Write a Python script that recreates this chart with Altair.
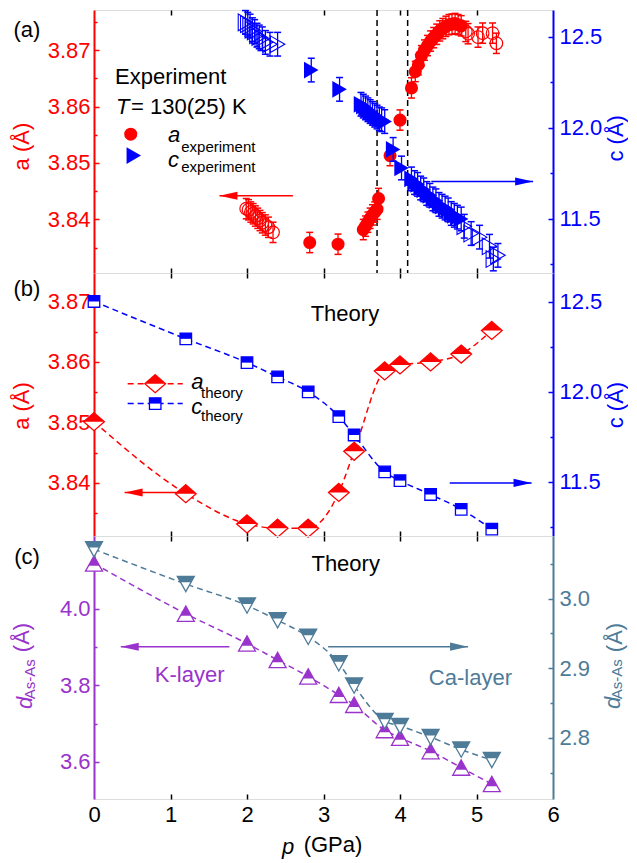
import altair as alt
import pandas as pd

# ---------------- data ----------------
# panel (a): experiment, a (left axis) and c (right axis) versus p
A_FILL_P = [2.82, 3.19, 3.52, 3.55, 3.58, 3.61, 3.64, 3.67, 3.70, 3.72, 3.87, 4.00, 4.15,
            4.20, 4.24, 4.28, 4.32, 4.36, 4.40, 4.44, 4.48, 4.52, 4.56, 4.60, 4.64, 4.68,
            4.72, 4.76, 4.80]
A_FILL = [3.8359, 3.8356, 3.8382, 3.8388, 3.8395, 3.8402, 3.8408, 3.8413, 3.8418, 3.8437,
          3.8513, 3.8576, 3.8633, 3.8662, 3.8674, 3.8690, 3.8700, 3.8708, 3.8716, 3.8722,
          3.8728, 3.8734, 3.8738, 3.8742, 3.8745, 3.8746, 3.8747, 3.8745, 3.8743]
A_OPEN_P = [1.99, 2.02, 2.05, 2.08, 2.11, 2.14, 2.17, 2.20, 2.24, 2.28, 2.34,
            4.86, 4.89, 5.02, 5.08, 5.21, 5.26]
A_OPEN = [3.8419, 3.8417, 3.8413, 3.8410, 3.8406, 3.8402, 3.8398, 3.8394, 3.8390, 3.8386,
          3.8377, 3.8733, 3.8729, 3.8723, 3.8730, 3.8730, 3.8712]
A_ERR = 0.0018

C_FILL_P = [2.84, 3.21, 3.49, 3.52, 3.55, 3.58, 3.61, 3.64, 3.67, 3.70, 3.73, 3.76, 3.80,
            3.91, 4.02, 4.15, 4.19, 4.23, 4.27, 4.31, 4.35, 4.39, 4.43, 4.47, 4.51, 4.55,
            4.59, 4.63, 4.67, 4.71, 4.75, 4.80]
C_FILL = [12.318, 12.212, 12.13, 12.12, 12.11, 12.10, 12.09, 12.08, 12.07, 12.06, 12.05,
          12.045, 12.035, 11.882, 11.78, 11.72, 11.70, 11.69, 11.67, 11.66, 11.64, 11.63,
          11.61, 11.60, 11.58, 11.57, 11.56, 11.55, 11.53, 11.52, 11.51, 11.50]
C_OPEN_P = [1.98, 2.01, 2.04, 2.07, 2.10, 2.13, 2.16, 2.20, 2.24, 2.30, 2.40,
            4.84, 4.93, 5.04, 5.17, 5.28, 5.22]
C_OPEN = [12.58, 12.57, 12.56, 12.54, 12.53, 12.51, 12.50, 12.49, 12.47, 12.46, 12.46,
          11.46, 11.42, 11.40, 11.35, 11.30, 11.28]
C_ERR = 0.065

TRANSITIONS = [3.7, 4.1]

# panel (b) and (c): theory
P_TH = [0, 1.2, 2.0, 2.4, 2.8, 3.2, 3.4, 3.8, 4.0, 4.4, 4.8, 5.2]
A_TH = [3.8501, 3.8382, 3.8332, 3.8325, 3.8325, 3.8384, 3.8452, 3.8585, 3.8595, 3.8600,
        3.8613, 3.8652]
C_TH = [12.500, 12.293, 12.161, 12.082, 11.999, 11.862, 11.760, 11.555, 11.507, 11.430,
        11.348, 11.238]
K_TH = [4.118, 3.987, 3.909, 3.866, 3.823, 3.775, 3.749, 3.683, 3.663, 3.628, 3.585, 3.542]
CA_TH = [3.071, 3.021, 2.990, 2.969, 2.945, 2.907, 2.875, 2.824, 2.817, 2.801, 2.783, 2.768]

# axes
P_DOM = [0, 6]
X_TICKS = [0, 0.5, 1, 1.5, 2, 2.5, 3, 3.5, 4, 4.5, 5, 5.5, 6]
X_LABELS = [0, 1, 2, 3, 4, 5, 6]
A_DOM_A = [3.8305, 3.8771]
C_DOM_A = [11.203, 12.648]
A_DOM_B = [3.8312, 3.8747]
C_DOM_B = [11.20, 12.658]
K_DOM = [3.503, 4.19]
CA_DOM = [2.712, 3.090]
A_TICKS_A = [3.835, 3.84, 3.845, 3.85, 3.855, 3.86, 3.865, 3.87, 3.875]
A_TICKS_B = [3.835, 3.84, 3.845, 3.85, 3.855, 3.86, 3.865, 3.87]
A_LABELS = [3.84, 3.85, 3.86, 3.87]
C_TICKS = [11.25, 11.5, 11.75, 12.0, 12.25, 12.5]
C_LABELS = [11.5, 12.0, 12.5]
K_TICKS = [3.6, 3.7, 3.8, 3.9, 4.0, 4.1]
K_LABELS = [3.6, 3.8, 4.0]
CA_TICKS = [2.75, 2.8, 2.85, 2.9, 2.95, 3.0, 3.05]
CA_LABELS = [2.8, 2.9, 3.0]

# ---------------- style ----------------
W, H = 459, 263
FONT = "Liberation Sans"
FS, FS_SUB = 22, 15
RED, BLUE, PURPLE, TEAL, BLACK = "#FF0000", "#0000FF", "#9933CC", "#4E7B98", "#000000"

DIAMOND = "M 0 -1 L 1.15 0 L 0 1 L -1.15 0 Z"
DIAMOND_TOP = "M 0 -1 L 1.15 0 L -1.15 0 Z"
SQUARE = "M -1 -1 L 1 -1 L 1 1 L -1 1 Z"
SQUARE_TOP = "M -1 -1 L 1 -1 L 1 0 L -1 0 Z"
TRI_UP = "M 0 -0.9 L 1 0.9 L -1 0.9 Z"
TRI_UP_TOP = "M 0 -0.9 L 0.639 0.25 L -0.639 0.25 Z"
TRI_DN = "M -1 -0.9 L 1 -0.9 L 0 0.9 Z"
TRI_DN_TOP = "M -1 -0.9 L 1 -0.9 L 0.611 -0.2 L -0.611 -0.2 Z"
HEAD_L = "M 0 0 L 2 -0.45 L 2 0.45 Z"
HEAD_R = "M 0 0 L -2 -0.45 L -2 0.45 Z"


def membership(values):
    return "(" + " || ".join(f"datum.value === {v}" for v in values) + ")"


def x_factory(show_labels):
    test = membership(X_LABELS)
    ax = alt.Axis(values=X_TICKS, labels=show_labels,
                  labelExpr=f"{test} ? datum.label : ''", format="d",
                  ticks=False, domain=False, grid=True, gridColor=BLACK, gridWidth=1.5,
                  gridDash={"condition": {"test": test, "value": [5, H - 10, 5, 3000]},
                            "value": [3, H - 6, 3, 3000]},
                  gridOpacity={"condition": {"test": "datum.value === 0 || datum.value === 6",
                                             "value": 0}, "value": 1},
                  labelFont=FONT, labelFontSize=FS, labelColor=BLACK, labelPadding=5,
                  labelFlush=False, labelOverlap=False, title=None)
    sc = alt.Scale(domain=P_DOM, nice=False, zero=False)
    return lambda f="p": alt.X(f"{f}:Q", scale=sc, axis=ax)


def y_factory(domain, ticks, labels, color, orient, fmt):
    test = membership(labels)
    ax = alt.Axis(orient=orient, values=ticks, labelExpr=f"{test} ? datum.label : ''",
                  format=fmt, ticks=False, domainColor=color, domainWidth=2,
                  labelColor=color, labelFont=FONT, labelFontSize=FS,
                  labelPadding=4 if orient == "left" else 6, labelFlush=False,
                  labelOverlap=False, grid=True, gridColor=color, gridWidth=1.5,
                  gridDash={"condition": {"test": test, "value": [5, 3000]},
                            "value": [3, 3000]}, title=None)
    sc = alt.Scale(domain=domain, nice=False, zero=False)
    return lambda f="v": alt.Y(f"{f}:Q", scale=sc, axis=ax)


def df_xy(ps, vs):
    return pd.DataFrame({"p": ps, "v": vs})


def text(X, Y, p, v, s, size=FS, color=BLACK, italic=False, align="center", angle=0):
    d = pd.DataFrame({"p": [p], "v": [v], "t": [s]})
    return alt.Chart(d).mark_text(font=FONT, fontSize=size, color=color,
                                  fontStyle="italic" if italic else "normal",
                                  align=align, baseline="middle", angle=angle).encode(
        x=X(), y=Y(), text="t:N")


def points(X, Y, d, shape, size, color, filled=True, fill=None, sw=1.2):
    kw = dict(shape=shape, size=size, opacity=1, strokeWidth=sw)
    if filled and fill is None:
        kw.update(filled=True, color=color, strokeWidth=0)
    elif filled:
        kw.update(filled=True, fill=fill, stroke=color)
    else:
        kw.update(filled=False, color=color)
    return alt.Chart(d).mark_point(**kw).encode(x=X(), y=Y())


def errorbars(X, Y, ps, vs, err, color):
    d = pd.DataFrame({"p": ps, "lo": [v - err for v in vs], "hi": [v + err for v in vs]})
    bar = alt.Chart(d).mark_rule(color=color, strokeWidth=1.3).encode(
        x=X(), y=Y("lo"), y2="hi:Q")
    cap1 = alt.Chart(d).mark_tick(color=color, orient="horizontal", size=7,
                                  thickness=1.5, opacity=1).encode(x=X(), y=Y("lo"))
    cap2 = alt.Chart(d).mark_tick(color=color, orient="horizontal", size=7,
                                  thickness=1.5, opacity=1).encode(x=X(), y=Y("hi"))
    return [bar, cap1, cap2]


def arrow(X, Y, p_tail, p_tip, v, color, head):
    d = pd.DataFrame({"p": [p_tail], "p2": [p_tip], "v": [v]})
    line = alt.Chart(d).mark_rule(color=color, strokeWidth=1.5).encode(
        x=X(), x2="p2:Q", y=Y())
    h = pd.DataFrame({"p": [p_tip], "v": [v]})
    tip = alt.Chart(h).mark_point(shape=head, size=324, filled=True, color=color,
                                  opacity=1, strokeWidth=0).encode(x=X(), y=Y())
    return [line, tip]


def theory(X, Y, ps, vs, color, outline, top, size):
    d = df_xy(ps, vs)
    line = alt.Chart(d).mark_line(color=color, strokeDash=[6, 4], strokeWidth=1.5,
                                  interpolate="monotone").encode(x=X(), y=Y())
    return [line,
            points(X, Y, d, outline, size, color, filled=True, fill="white", sw=1.3),
            points(X, Y, d, top, size, color)]


def panel(left, right):
    return alt.layer(alt.layer(*left), alt.layer(*right)).resolve_scale(
        y="independent").properties(width=W, height=H)


# ---------------- panel (a) ----------------
Xa = x_factory(False)
Ya = y_factory(A_DOM_A, A_TICKS_A, A_LABELS, RED, "left", ".2f")
Ca = y_factory(C_DOM_A, C_TICKS, C_LABELS, BLUE, "right", ".1f")

vlines = alt.Chart(pd.DataFrame({"p": TRANSITIONS})).mark_rule(
    color=BLACK, strokeDash=[6, 4], strokeWidth=1.5).encode(x=Xa())

left_a = [vlines]
left_a += errorbars(Xa, Ya, A_OPEN_P, A_OPEN, A_ERR, RED)
left_a += errorbars(Xa, Ya, A_FILL_P, A_FILL, A_ERR, RED)
left_a += [points(Xa, Ya, df_xy(A_OPEN_P, A_OPEN), "circle", 160, RED, filled=False, sw=1.2),
           points(Xa, Ya, df_xy(A_FILL_P, A_FILL), "circle", 170, RED)]
left_a += arrow(Xa, Ya, 2.60, 1.64, 3.8442, RED, HEAD_L)
left_a += [text(Xa, Ya, -0.876, 3.8736, "(a)"),
           text(Xa, Ya, 0.275, 3.8653, "Experiment", align="left"),
           text(Xa, Ya, 0.288, 3.8600, "T", italic=True, align="left"),
           text(Xa, Ya, 0.484, 3.8600, "= 130(25) K", align="left"),
           points(Xa, Ya, df_xy([0.48], [3.8551]), "circle", 170, RED),
           points(Xa, Ya, df_xy([0.52], [3.8513]), "triangle-right", 280, BLUE),
           text(Xa, Ya, 0.967, 3.8549, "a", italic=True, align="left"),
           text(Xa, Ya, 1.14, 3.8529, "experiment", size=FS_SUB, align="left"),
           text(Xa, Ya, 0.967, 3.8506, "c", italic=True, align="left"),
           text(Xa, Ya, 1.14, 3.8492, "experiment", size=FS_SUB, align="left"),
           text(Xa, Ya, -0.941, 3.8529, "a (Å)", color=RED, angle=270)]

right_a = []
right_a += errorbars(Xa, Ca, C_OPEN_P, C_OPEN, C_ERR, BLUE)
right_a += errorbars(Xa, Ca, C_FILL_P, C_FILL, C_ERR, BLUE)
right_a += [points(Xa, Ca, df_xy(C_OPEN_P, C_OPEN), "triangle-right", 280, BLUE,
                   filled=False, sw=1.1),
            points(Xa, Ca, df_xy(C_FILL_P, C_FILL), "triangle-right", 280, BLUE)]
right_a += arrow(Xa, Ca, 4.41, 5.74, 11.706, BLUE, HEAD_R)
right_a += [text(Xa, Ca, 6.83, 11.943, "c (Å)", color=BLUE, angle=270)]

panel_a = panel(left_a, right_a)

# ---------------- panel (b) ----------------
Xb = x_factory(False)
Yb = y_factory(A_DOM_B, A_TICKS_B, A_LABELS, RED, "left", ".2f")
Cb = y_factory(C_DOM_B, C_TICKS, C_LABELS, BLUE, "right", ".1f")


def legend_line(X, Y, p1, p2, v, color):
    d = pd.DataFrame({"p": [p1], "p2": [p2], "v": [v]})
    return alt.Chart(d).mark_rule(color=color, strokeDash=[6, 4], strokeWidth=1.5).encode(
        x=X(), x2="p2:Q", y=Y())


left_b = theory(Xb, Yb, P_TH, A_TH, RED, DIAMOND, DIAMOND_TOP, 324)
left_b += arrow(Xb, Yb, 1.10, 0.40, 3.8384, RED, HEAD_L)
left_b += [text(Xb, Yb, -0.876, 3.8721, "(b)"),
           text(Xb, Yb, 3.28, 3.8679, "Theory"),
           legend_line(Xb, Yb, 0.44, 1.16, 3.8564, RED),
           points(Xb, Yb, df_xy([0.80], [3.8564]), DIAMOND, 324, RED, filled=True,
                  fill="white", sw=1.3),
           points(Xb, Yb, df_xy([0.80], [3.8564]), DIAMOND_TOP, 324, RED),
           legend_line(Xb, Yb, 0.44, 1.16, 3.8531, BLUE),
           points(Xb, Yb, df_xy([0.80], [3.8531]), SQUARE, 132, BLUE, filled=True,
                  fill="white", sw=1.3),
           points(Xb, Yb, df_xy([0.80], [3.8531]), SQUARE_TOP, 132, BLUE),
           text(Xb, Yb, 1.27, 3.8567, "a", italic=True, align="left"),
           text(Xb, Yb, 1.40, 3.8548, "theory", size=FS_SUB, align="left"),
           text(Xb, Yb, 1.27, 3.8526, "c", italic=True, align="left"),
           text(Xb, Yb, 1.40, 3.8511, "theory", size=FS_SUB, align="left"),
           text(Xb, Yb, -0.941, 3.8527, "a (Å)", color=RED, angle=270)]

right_b = theory(Xb, Cb, P_TH, C_TH, BLUE, SQUARE, SQUARE_TOP, 132)
right_b += arrow(Xb, Cb, 4.65, 5.72, 11.4945, BLUE, HEAD_R)
right_b += [text(Xb, Cb, 6.83, 11.926, "c (Å)", color=BLUE, angle=270)]

panel_b = panel(left_b, right_b)

# ---------------- panel (c) ----------------
Xc = x_factory(True)
Kc = y_factory(K_DOM, K_TICKS, K_LABELS, PURPLE, "left", ".1f")
Cc = y_factory(CA_DOM, CA_TICKS, CA_LABELS, TEAL, "right", ".1f")

left_c = theory(Xc, Kc, P_TH, K_TH, PURPLE, TRI_UP, TRI_UP_TOP, 289)
left_c += arrow(Xc, Kc, 1.77, 0.35, 3.9007, PURPLE, HEAD_L)
left_c += [text(Xc, Kc, -0.876, 4.135, "(c)"),
           text(Xc, Kc, 3.29, 4.1166, "Theory"),
           text(Xc, Kc, 1.25, 3.827, "K-layer", color=PURPLE),
           text(Xc, Kc, 4.92, 3.8186, "Ca-layer", color=TEAL),
           text(Xc, Kc, 2.536, 3.378, "p", italic=True),
           text(Xc, Kc, 3.124, 3.383, "(GPa)"),
           # left axis title d_As-As (Å)
           text(Xc, Kc, -0.902, 3.7538, "d", color=PURPLE, italic=True, angle=270),
           text(Xc, Kc, -0.837, 3.8160, "As-As", size=FS_SUB, color=PURPLE, angle=270),
           text(Xc, Kc, -0.941, 3.9248, "(Å)", color=PURPLE, angle=270),
           # right axis title
           text(Xc, Kc, 6.78, 3.7538, "d", color=TEAL, italic=True, angle=270),
           text(Xc, Kc, 6.84, 3.8160, "As-As", size=FS_SUB, color=TEAL, angle=270),
           text(Xc, Kc, 6.81, 3.9248, "(Å)", color=TEAL, angle=270)]

right_c = theory(Xc, Cc, P_TH, CA_TH, TEAL, TRI_DN, TRI_DN_TOP, 289)
right_c += arrow(Xc, Cc, 3.06, 4.89, 2.931, TEAL, HEAD_R)

panel_c = panel(left_c, right_c)

chart = alt.vconcat(panel_a, panel_b, panel_c, spacing=0, bounds="flush").properties(
    padding={"left": 2, "top": 0, "right": 0, "bottom": 0}
).configure_view(stroke=BLACK, strokeWidth=1.5).configure(font=FONT)

chart.save("out.html", embed_options={"renderer": "svg", "actions": False})
